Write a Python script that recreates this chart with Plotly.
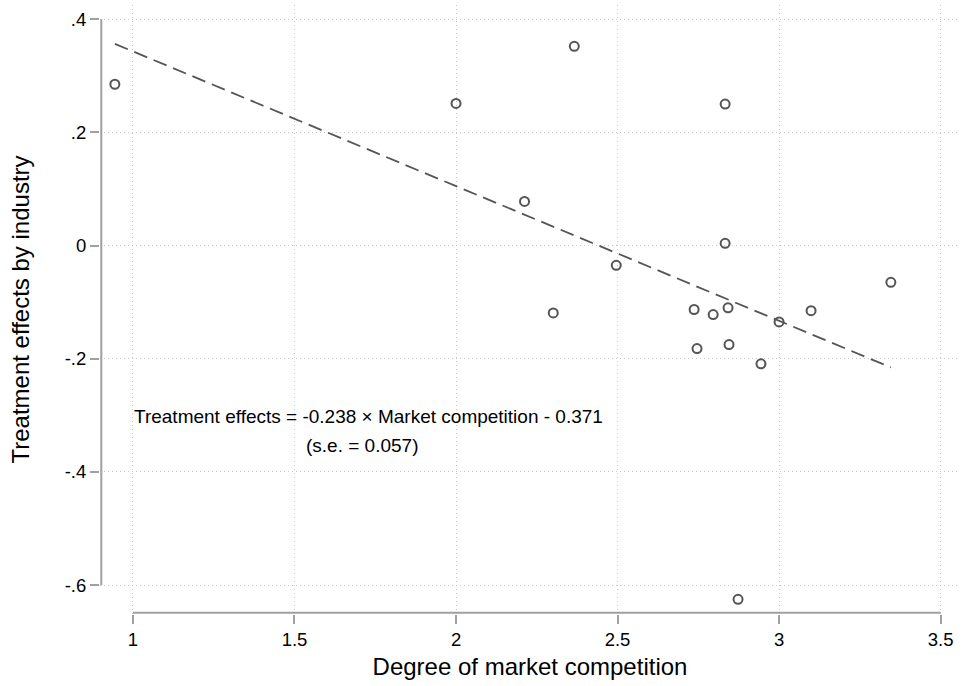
import plotly.graph_objects as go

# Data
competition = [0.944, 2.366, 2.000, 2.833, 2.212, 2.833, 2.496, 3.346, 2.301,
               2.737, 2.796, 2.842, 3.000, 3.099, 2.746, 2.845, 2.944, 2.873]
effects = [0.285, 0.352, 0.251, 0.250, 0.078, 0.004, -0.035, -0.065, -0.119,
           -0.113, -0.122, -0.110, -0.135, -0.115, -0.182, -0.175, -0.209, -0.625]
fit_slope = -0.238
fit_intercept = 0.581

x_ticks = [1, 1.5, 2, 2.5, 3, 3.5]
x_ticklabels = ["1", "1.5", "2", "2.5", "3", "3.5"]
y_ticks = [-0.6, -0.4, -0.2, 0, 0.2, 0.4]
y_ticklabels = ["-.6", "-.4", "-.2", "0", ".2", ".4"]

eq_line1 = "Treatment effects = -0.238 × Market competition - 0.371"
eq_line2 = "(s.e. = 0.057)"

x_lo, x_hi = min(competition), max(competition)
fit_x = [x_lo, x_hi]
fit_y = [fit_intercept + fit_slope * v for v in fit_x]

FONT = "Liberation Sans, Arial, sans-serif"
AX = "#a0a0a0"
GRID = "#c8c8c8"

fig = go.Figure()
fig.add_trace(go.Scatter(
    x=competition, y=effects, mode="markers",
    marker=dict(symbol="circle-open", size=9, color="#555555", line=dict(width=2, color="#555555")),
    showlegend=False, hoverinfo="x+y"))
fig.add_trace(go.Scatter(
    x=fit_x, y=fit_y, mode="lines",
    line=dict(color="#555555", width=1.8, dash="14px,7px"),
    showlegend=False))

fig.add_annotation(x=1.73, y=-0.302, xref="x", yref="y", text=eq_line1, showarrow=False,
                   font=dict(family=FONT, size=19, color="black"))
fig.add_annotation(x=1.71, y=-0.354, xref="x", yref="y", text=eq_line2, showarrow=False,
                   font=dict(family=FONT, size=19, color="black"))

# Stata-like axis lines spanning only the tick range
fig.add_shape(type="line", xref="paper", yref="y", x0=0.0015, x1=0.0015, y0=y_ticks[0], y1=y_ticks[-1],
              line=dict(color=AX, width=2))
fig.add_shape(type="line", xref="x", yref="paper", x0=x_ticks[0], x1=x_ticks[-1], y0=0.002, y1=0.002,
              line=dict(color=AX, width=2))

fig.update_layout(
    width=962, height=686,
    margin=dict(l=100, r=2, t=5, b=72),
    plot_bgcolor="white", paper_bgcolor="white",
    font=dict(family=FONT, color="black"),
    xaxis=dict(range=[0.898, 3.56], tickvals=x_ticks, ticktext=x_ticklabels,
               showgrid=True, gridcolor=GRID, griddash="1px,3px", gridwidth=1,
               zeroline=False, showline=False, ticks="outside", ticklen=9, tickwidth=2,
               tickcolor=AX, tickfont=dict(size=18.5, family=FONT),
               title=dict(text="Degree of market competition", font=dict(size=24, family=FONT), standoff=8)),
    yaxis=dict(range=[-0.651, 0.425], tickvals=y_ticks, ticktext=y_ticklabels,
               showgrid=True, gridcolor=GRID, griddash="1px,3px", gridwidth=1,
               zeroline=False, showline=False, ticks="outside", ticklen=9, tickwidth=2,
               tickcolor=AX, tickfont=dict(size=18.5, family=FONT),
               title=dict(text="Treatment effects by industry", font=dict(size=24, family=FONT), standoff=28)),
)

fig.write_html("out.html")
